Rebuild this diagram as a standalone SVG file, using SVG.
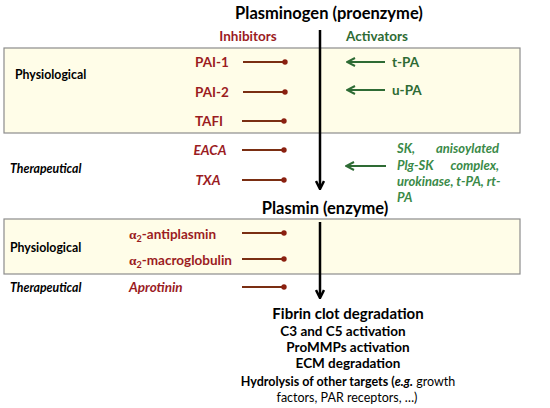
<svg xmlns="http://www.w3.org/2000/svg" width="550" height="408" viewBox="0 0 550 408">
<style>
text{font-family:Lato,"Open Sans","Liberation Sans",sans-serif;font-weight:bold}
.t{font-size:16.5px;fill:#000}
.h{font-size:13.5px}
.red{fill:#9b1c1f}
.grn{fill:#2e6b34}
.lab{font-size:12.3px;fill:#000}
.it{font-style:italic}
.gi{font-size:13px;fill:#3a8a48;font-style:italic}
.b{font-size:13.5px;fill:#000;text-anchor:middle}
.band{fill:#fffde8;stroke:#8c8c8c;stroke-width:1.2}
.inh{stroke:#7a2e12;stroke-width:2}
.dot{fill:#8b2010}
.act{stroke:#2e6b34;stroke-width:2;fill:none}
.main{stroke:#000;stroke-width:2.5;fill:none}
</style>
<defs>
<marker id="ga" viewBox="0 0 10 10" refX="8" refY="5" markerWidth="5" markerHeight="5" orient="auto">
<path d="M1,1 L9,5 L1,9" fill="none" stroke="#2e6b34" stroke-width="2"/>
</marker>
<marker id="ba" viewBox="0 0 10 10" refX="8" refY="5" markerWidth="4" markerHeight="4" orient="auto">
<path d="M1,1 L9,5 L1,9" fill="none" stroke="#000" stroke-width="2.5"/>
</marker>
</defs>
<rect class="band" x="4" y="48" width="516" height="85"/>
<rect class="band" x="4" y="219" width="516" height="55"/>
<g id="connectors">
<line class="main" x1="320" y1="30" x2="320" y2="188" marker-end="url(#ba)"/>
<line class="main" x1="320" y1="222" x2="320" y2="297" marker-end="url(#ba)"/>
<line class="inh" x1="243" y1="62" x2="285" y2="62"/><circle class="dot" cx="285" cy="62" r="2.7"/>
<line class="inh" x1="243" y1="92" x2="285" y2="92"/><circle class="dot" cx="285" cy="92" r="2.7"/>
<line class="inh" x1="242" y1="121" x2="284" y2="121"/><circle class="dot" cx="284" cy="121" r="2.7"/>
<line class="inh" x1="242" y1="150" x2="284" y2="150"/><circle class="dot" cx="284" cy="150" r="2.7"/>
<line class="inh" x1="242" y1="180" x2="284" y2="180"/><circle class="dot" cx="284" cy="180" r="2.7"/>
<line class="inh" x1="242" y1="233" x2="284" y2="233"/><circle class="dot" cx="284" cy="233" r="2.7"/>
<line class="inh" x1="242" y1="259" x2="284" y2="259"/><circle class="dot" cx="284" cy="259" r="2.7"/>
<line class="inh" x1="242" y1="287" x2="284" y2="287"/><circle class="dot" cx="284" cy="287" r="2.7"/>
<line class="act" x1="385" y1="62" x2="348" y2="62" marker-end="url(#ga)"/>
<line class="act" x1="385" y1="90" x2="348" y2="90" marker-end="url(#ga)"/>
<line class="act" x1="386" y1="166" x2="347" y2="166" marker-end="url(#ga)"/>
</g>
<g id="plasminogen"><text class="t" x="329" y="19" text-anchor="middle">Plasminogen (proenzyme)</text></g>
<g id="headers">
<text class="h red" x="248" y="41" text-anchor="middle">Inhibitors</text>
<text class="h grn" x="377" y="41" text-anchor="middle">Activators</text>
</g>
<g id="labels">
<text class="lab" x="15" y="79">Physiological</text>
<text class="lab it" x="10" y="173">Therapeutical</text>
<text class="lab" x="10" y="252">Physiological</text>
<text class="lab it" x="10" y="292">Therapeutical</text>
</g>
<g id="inhibitors">
<text class="h red" x="212" y="67" text-anchor="middle">PAI-1</text>
<text class="h red" x="212" y="97" text-anchor="middle">PAI-2</text>
<text class="h red" x="209" y="126" text-anchor="middle">TAFI</text>
<text class="h red it" x="210" y="155" text-anchor="middle">EACA</text>
<text class="h red it" x="208" y="185" text-anchor="middle">TXA</text>
<text class="h red" x="129" y="239"><tspan font-family="Liberation Serif,serif">α</tspan><tspan font-size="9" dy="3">2</tspan><tspan dy="-3">-antiplasmin</tspan></text>
<text class="h red" x="129" y="265"><tspan font-family="Liberation Serif,serif">α</tspan><tspan font-size="9" dy="3">2</tspan><tspan dy="-3">-macroglobulin</tspan></text>
<text class="h red it" x="129" y="292">Aprotinin</text>
</g>
<g id="activators">
<text class="h grn" x="392" y="67">t-PA</text>
<text class="h grn" x="392" y="95">u-PA</text>
<text class="gi"><tspan x="397" y="153">SK,</tspan><tspan x="502" y="153" text-anchor="end">anisoylated</tspan>
<tspan x="397" y="170">Plg-SK</tspan><tspan x="502" y="170" text-anchor="end">complex,</tspan>
<tspan x="397" y="186">urokinase, t-PA, rt-</tspan>
<tspan x="397" y="202">PA</tspan></text>
</g>
<g id="plasmin"><text class="t" x="325" y="214" text-anchor="middle">Plasmin (enzyme)</text></g>
<g id="effects">
<text class="b" x="348" y="319" style="font-size:15px">Fibrin clot degradation</text>
<text class="b" x="343" y="336">C3 and C5 activation</text>
<text class="b" x="348" y="352">ProMMPs activation</text>
<text class="b" x="348" y="368">ECM degradation</text>
<text class="b" x="348" y="386" style="font-size:12.5px">Hydrolysis of other targets (<tspan font-style="italic">e.g.</tspan><tspan font-weight="normal"> growth</tspan></text>
<text class="b" x="347" y="402" style="font-size:12.5px;font-weight:normal">factors, PAR receptors, …)</text>
</g>
</svg>
